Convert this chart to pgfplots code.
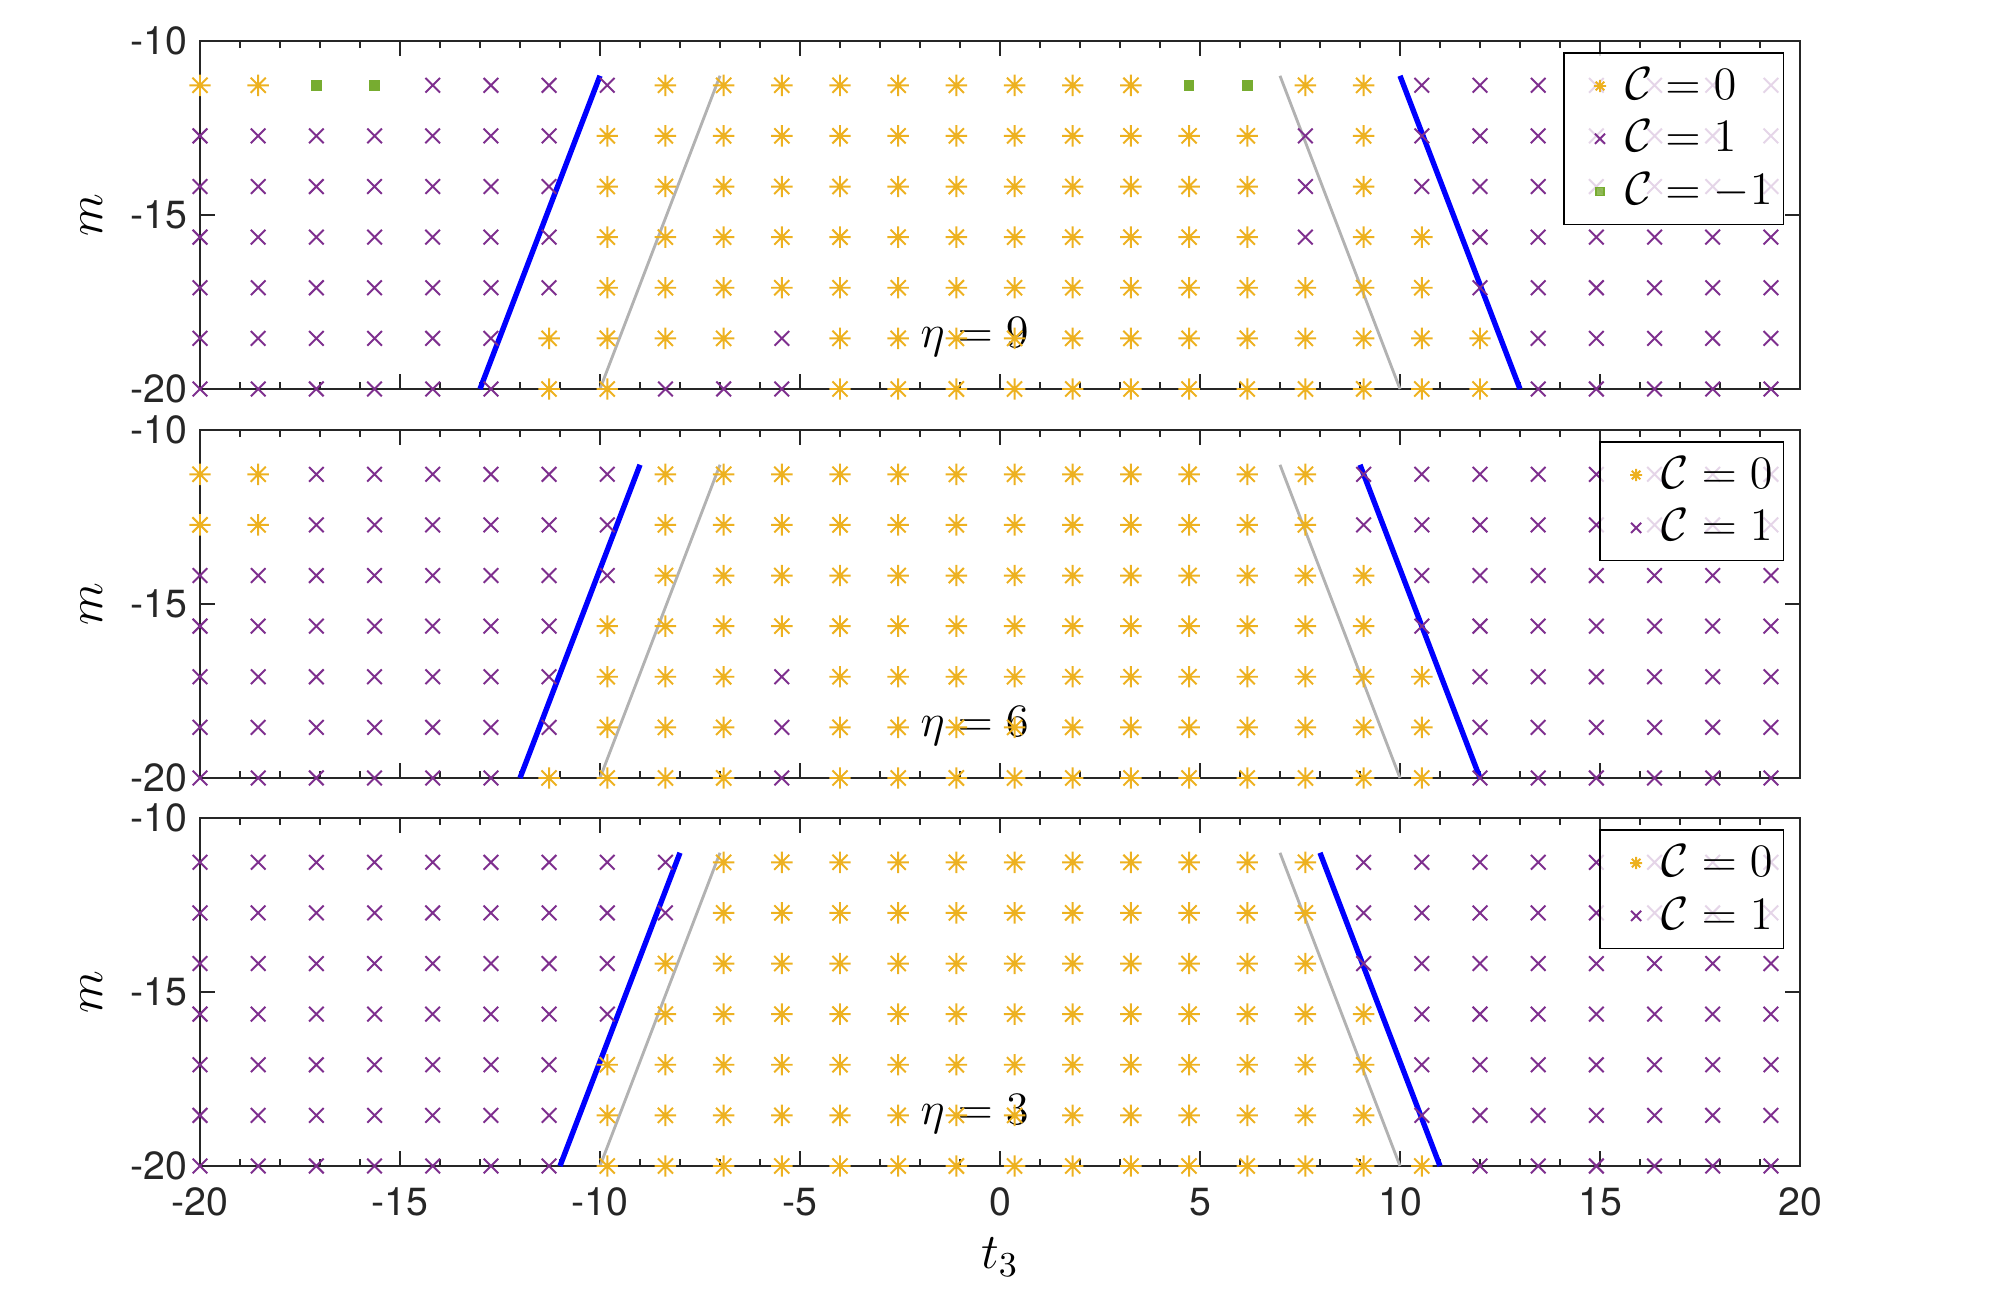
\RequirePackage{fix-cm}
\documentclass[border=0pt]{standalone}
\usepackage{fontspec}
\setmainfont{TeX Gyre Heros}
\usepackage{pgfplots}
\pgfplotsset{compat=1.18}
\definecolor{cO}{rgb}{0.929,0.694,0.125}
\definecolor{cP}{rgb}{0.494,0.184,0.556}
\definecolor{cG}{rgb}{0.466,0.674,0.188}
\definecolor{cA}{rgb}{0.15,0.15,0.15}
\definecolor{cL}{rgb}{0.7,0.7,0.7}
\pgfdeclareplotmark{mstar}{%
 \pgfpathmoveto{\pgfqpoint{0pt}{\pgfplotmarksize}}\pgfpathlineto{\pgfqpoint{0pt}{-\pgfplotmarksize}}%
 \pgfpathmoveto{\pgfqpoint{\pgfplotmarksize}{0pt}}\pgfpathlineto{\pgfqpoint{-\pgfplotmarksize}{0pt}}%
 \pgfpathmoveto{\pgfqpoint{0.7071\pgfplotmarksize}{0.7071\pgfplotmarksize}}\pgfpathlineto{\pgfqpoint{-0.7071\pgfplotmarksize}{-0.7071\pgfplotmarksize}}%
 \pgfpathmoveto{\pgfqpoint{-0.7071\pgfplotmarksize}{0.7071\pgfplotmarksize}}\pgfpathlineto{\pgfqpoint{0.7071\pgfplotmarksize}{-0.7071\pgfplotmarksize}}%
 \pgfusepathqstroke}
\pgfplotsset{
 panel/.style={
  scale only axis, width=448pt, height=97.44pt,
  xmin=-20, xmax=20, ymin=-20, ymax=-10,
  xtick={-20,-15,...,20}, minor x tick num=4,
  ytick={-20,-15,-10}, yticklabels={-20,-15,-10},
  tick align=inside,
  major tick length=4.2pt, minor tick length=2pt,
  axis line style={cA, line width=0.4pt},
  tick style={cA, line width=0.4pt},
  tick label style={font=\fontsize{11}{13}\selectfont, text=cA},
  xticklabel style={yshift=-2.6pt},
  clip=false,
  ylabel={$m$},
  ylabel style={at={(axis description cs:-0.0675,0.5)}, anchor=center, font=\fontsize{14}{16}\selectfont},
  legend style={at={(0.990,0.967)}, anchor=north east, draw=black, line width=0.4pt,
    fill=white, fill opacity=0.8, draw opacity=1, text opacity=1,
    font=\fontsize{13}{15}\selectfont, inner xsep=1pt, inner ysep=2pt, row sep=0.4pt},
  legend cell align=left,
  legend image code/.code={\path[draw=none,fill=none] (0cm,-0.1cm) rectangle (0.5cm,0.1cm); \draw[##1] plot coordinates {(0.32cm,0cm)};},
 },
 s0/.style={only marks, mark=mstar, mark size=3.0pt, color=cO, mark options={line width=0.55pt}, legend image post style={mark size=1.7pt}},
 s1/.style={only marks, mark=x, mark size=2.9pt, color=cP, mark options={line width=0.55pt}, legend image post style={mark size=2.0pt}},
 s2/.style={only marks, mark=square*, mark size=1.3pt, color=cG, legend image post style={mark size=1.1pt}},
 lb/.style={blue, line width=1.5pt, forget plot},
 lg/.style={cL, line width=0.8pt, forget plot},
}
\begin{document}
\begin{tikzpicture}
\path[use as bounding box] (0,0) rectangle (560pt,-362.88pt);
% ---------------- panel eta = 9
\begin{axis}[panel, at={(56pt,-11.48pt)}, anchor=north west, xticklabels={}]
\addplot[s0] coordinates {
(-20,-11.273) (-18.545,-11.273) (-8.364,-11.273) (-6.909,-11.273) (-5.455,-11.273) (-4,-11.273) (-2.545,-11.273) (-1.091,-11.273) (0.364,-11.273) (1.818,-11.273) (3.273,-11.273) (7.636,-11.273) (9.091,-11.273)
(-9.818,-12.727) (-8.364,-12.727) (-6.909,-12.727) (-5.455,-12.727) (-4,-12.727) (-2.545,-12.727) (-1.091,-12.727) (0.364,-12.727) (1.818,-12.727) (3.273,-12.727) (4.727,-12.727) (6.182,-12.727) (9.091,-12.727)
(-9.818,-14.182) (-8.364,-14.182) (-6.909,-14.182) (-5.455,-14.182) (-4,-14.182) (-2.545,-14.182) (-1.091,-14.182) (0.364,-14.182) (1.818,-14.182) (3.273,-14.182) (4.727,-14.182) (6.182,-14.182) (9.091,-14.182)
(-9.818,-15.636) (-8.364,-15.636) (-6.909,-15.636) (-5.455,-15.636) (-4,-15.636) (-2.545,-15.636) (-1.091,-15.636) (0.364,-15.636) (1.818,-15.636) (3.273,-15.636) (4.727,-15.636) (6.182,-15.636) (9.091,-15.636) (10.545,-15.636)
(-9.818,-17.091) (-8.364,-17.091) (-6.909,-17.091) (-5.455,-17.091) (-4,-17.091) (-2.545,-17.091) (-1.091,-17.091) (0.364,-17.091) (1.818,-17.091) (3.273,-17.091) (4.727,-17.091) (6.182,-17.091) (7.636,-17.091) (9.091,-17.091) (10.545,-17.091)
(-11.273,-18.545) (-9.818,-18.545) (-8.364,-18.545) (-6.909,-18.545) (-4,-18.545) (-2.545,-18.545) (-1.091,-18.545) (0.364,-18.545) (1.818,-18.545) (3.273,-18.545) (4.727,-18.545) (6.182,-18.545) (7.636,-18.545) (9.091,-18.545) (10.545,-18.545) (12,-18.545)
(-11.273,-20) (-9.818,-20) (-4,-20) (-2.545,-20) (-1.091,-20) (0.364,-20) (1.818,-20) (3.273,-20) (4.727,-20) (6.182,-20) (7.636,-20) (9.091,-20) (10.545,-20) (12,-20)
};
\addlegendentry{$\mathcal{C}=0$}
\addplot[s1] coordinates {
(-14.182,-11.273) (-12.727,-11.273) (-11.273,-11.273) (-9.818,-11.273) (10.545,-11.273) (12,-11.273) (13.455,-11.273) (14.909,-11.273) (16.364,-11.273) (17.818,-11.273) (19.273,-11.273)
(-20,-12.727) (-18.545,-12.727) (-17.091,-12.727) (-15.636,-12.727) (-14.182,-12.727) (-12.727,-12.727) (-11.273,-12.727) (7.636,-12.727) (10.545,-12.727) (12,-12.727) (13.455,-12.727) (14.909,-12.727) (16.364,-12.727) (17.818,-12.727) (19.273,-12.727)
(-20,-14.182) (-18.545,-14.182) (-17.091,-14.182) (-15.636,-14.182) (-14.182,-14.182) (-12.727,-14.182) (-11.273,-14.182) (7.636,-14.182) (10.545,-14.182) (12,-14.182) (13.455,-14.182) (14.909,-14.182) (16.364,-14.182) (17.818,-14.182) (19.273,-14.182)
(-20,-15.636) (-18.545,-15.636) (-17.091,-15.636) (-15.636,-15.636) (-14.182,-15.636) (-12.727,-15.636) (-11.273,-15.636) (7.636,-15.636) (12,-15.636) (13.455,-15.636) (14.909,-15.636) (16.364,-15.636) (17.818,-15.636) (19.273,-15.636)
(-20,-17.091) (-18.545,-17.091) (-17.091,-17.091) (-15.636,-17.091) (-14.182,-17.091) (-12.727,-17.091) (-11.273,-17.091) (12,-17.091) (13.455,-17.091) (14.909,-17.091) (16.364,-17.091) (17.818,-17.091) (19.273,-17.091)
(-20,-18.545) (-18.545,-18.545) (-17.091,-18.545) (-15.636,-18.545) (-14.182,-18.545) (-12.727,-18.545) (-5.455,-18.545) (13.455,-18.545) (14.909,-18.545) (16.364,-18.545) (17.818,-18.545) (19.273,-18.545)
(-20,-20) (-18.545,-20) (-17.091,-20) (-15.636,-20) (-14.182,-20) (-12.727,-20) (-8.364,-20) (-6.909,-20) (-5.455,-20) (13.455,-20) (14.909,-20) (16.364,-20) (17.818,-20) (19.273,-20)
};
\addlegendentry{$\mathcal{C}=1$}
\addplot[s2] coordinates {(-17.091,-11.273) (-15.636,-11.273) (4.727,-11.273) (6.182,-11.273)};
\addlegendentry{$\mathcal{C}=-1$}
\addplot[lb] coordinates {(-13,-20) (-10,-11)};
\addplot[lb] coordinates {(10,-11) (13,-20)};
\addplot[lg] coordinates {(-10,-20) (-7,-11)};
\addplot[lg] coordinates {(7,-11) (10,-20)};
\node[anchor=west, font=\fontsize{13}{15}\selectfont, inner sep=0pt] at (axis cs:-2,-18.5) {$\eta=9$};
\end{axis}
% ---------------- panel eta = 6
\begin{axis}[panel, at={(56pt,-120.4pt)}, anchor=north west, xticklabels={}]
\addplot[s0] coordinates {
(-20,-11.273) (-18.545,-11.273) (-8.364,-11.273) (-6.909,-11.273) (-5.455,-11.273) (-4,-11.273) (-2.545,-11.273) (-1.091,-11.273) (0.364,-11.273) (1.818,-11.273) (3.273,-11.273) (4.727,-11.273) (6.182,-11.273) (7.636,-11.273)
(-20,-12.727) (-18.545,-12.727) (-8.364,-12.727) (-6.909,-12.727) (-5.455,-12.727) (-4,-12.727) (-2.545,-12.727) (-1.091,-12.727) (0.364,-12.727) (1.818,-12.727) (3.273,-12.727) (4.727,-12.727) (6.182,-12.727) (7.636,-12.727)
(-8.364,-14.182) (-6.909,-14.182) (-5.455,-14.182) (-4,-14.182) (-2.545,-14.182) (-1.091,-14.182) (0.364,-14.182) (1.818,-14.182) (3.273,-14.182) (4.727,-14.182) (6.182,-14.182) (7.636,-14.182) (9.091,-14.182)
(-9.818,-15.636) (-8.364,-15.636) (-6.909,-15.636) (-5.455,-15.636) (-4,-15.636) (-2.545,-15.636) (-1.091,-15.636) (0.364,-15.636) (1.818,-15.636) (3.273,-15.636) (4.727,-15.636) (6.182,-15.636) (7.636,-15.636) (9.091,-15.636)
(-9.818,-17.091) (-8.364,-17.091) (-6.909,-17.091) (-4,-17.091) (-2.545,-17.091) (-1.091,-17.091) (0.364,-17.091) (1.818,-17.091) (3.273,-17.091) (4.727,-17.091) (6.182,-17.091) (7.636,-17.091) (9.091,-17.091) (10.545,-17.091)
(-9.818,-18.545) (-8.364,-18.545) (-6.909,-18.545) (-4,-18.545) (-2.545,-18.545) (-1.091,-18.545) (0.364,-18.545) (1.818,-18.545) (3.273,-18.545) (4.727,-18.545) (6.182,-18.545) (7.636,-18.545) (9.091,-18.545) (10.545,-18.545)
(-11.273,-20) (-9.818,-20) (-8.364,-20) (-6.909,-20) (-4,-20) (-2.545,-20) (-1.091,-20) (0.364,-20) (1.818,-20) (3.273,-20) (4.727,-20) (6.182,-20) (7.636,-20) (9.091,-20) (10.545,-20)
};
\addlegendentry{$\mathcal{C}=0$}
\addplot[s1] coordinates {
(-17.091,-11.273) (-15.636,-11.273) (-14.182,-11.273) (-12.727,-11.273) (-11.273,-11.273) (-9.818,-11.273) (9.091,-11.273) (10.545,-11.273) (12,-11.273) (13.455,-11.273) (14.909,-11.273) (16.364,-11.273) (17.818,-11.273) (19.273,-11.273)
(-17.091,-12.727) (-15.636,-12.727) (-14.182,-12.727) (-12.727,-12.727) (-11.273,-12.727) (-9.818,-12.727) (9.091,-12.727) (10.545,-12.727) (12,-12.727) (13.455,-12.727) (14.909,-12.727) (16.364,-12.727) (17.818,-12.727) (19.273,-12.727)
(-20,-14.182) (-18.545,-14.182) (-17.091,-14.182) (-15.636,-14.182) (-14.182,-14.182) (-12.727,-14.182) (-11.273,-14.182) (-9.818,-14.182) (10.545,-14.182) (12,-14.182) (13.455,-14.182) (14.909,-14.182) (16.364,-14.182) (17.818,-14.182) (19.273,-14.182)
(-20,-15.636) (-18.545,-15.636) (-17.091,-15.636) (-15.636,-15.636) (-14.182,-15.636) (-12.727,-15.636) (-11.273,-15.636) (10.545,-15.636) (12,-15.636) (13.455,-15.636) (14.909,-15.636) (16.364,-15.636) (17.818,-15.636) (19.273,-15.636)
(-20,-17.091) (-18.545,-17.091) (-17.091,-17.091) (-15.636,-17.091) (-14.182,-17.091) (-12.727,-17.091) (-11.273,-17.091) (-5.455,-17.091) (12,-17.091) (13.455,-17.091) (14.909,-17.091) (16.364,-17.091) (17.818,-17.091) (19.273,-17.091)
(-20,-18.545) (-18.545,-18.545) (-17.091,-18.545) (-15.636,-18.545) (-14.182,-18.545) (-12.727,-18.545) (-11.273,-18.545) (-5.455,-18.545) (12,-18.545) (13.455,-18.545) (14.909,-18.545) (16.364,-18.545) (17.818,-18.545) (19.273,-18.545)
(-20,-20) (-18.545,-20) (-17.091,-20) (-15.636,-20) (-14.182,-20) (-12.727,-20) (-5.455,-20) (12,-20) (13.455,-20) (14.909,-20) (16.364,-20) (17.818,-20) (19.273,-20)
};
\addlegendentry{$\mathcal{C}=1$}
\addplot[lb] coordinates {(-12,-20) (-9,-11)};
\addplot[lb] coordinates {(9,-11) (12,-20)};
\addplot[lg] coordinates {(-10,-20) (-7,-11)};
\addplot[lg] coordinates {(7,-11) (10,-20)};
\node[anchor=west, font=\fontsize{13}{15}\selectfont, inner sep=0pt] at (axis cs:-2,-18.5) {$\eta=6$};
\end{axis}
% ---------------- panel eta = 3
\begin{axis}[panel, at={(56pt,-229.04pt)}, anchor=north west,
  xticklabels={-20,-15,-10,-5,0,5,10,15,20},
  xlabel={$t_3$},
  xlabel style={at={(axis description cs:0.5,-0.262)}, anchor=center, font=\fontsize{14}{16}\selectfont}]
\addplot[s0] coordinates {
(-6.909,-11.273) (-5.455,-11.273) (-4,-11.273) (-2.545,-11.273) (-1.091,-11.273) (0.364,-11.273) (1.818,-11.273) (3.273,-11.273) (4.727,-11.273) (6.182,-11.273) (7.636,-11.273)
(-6.909,-12.727) (-5.455,-12.727) (-4,-12.727) (-2.545,-12.727) (-1.091,-12.727) (0.364,-12.727) (1.818,-12.727) (3.273,-12.727) (4.727,-12.727) (6.182,-12.727) (7.636,-12.727)
(-8.364,-14.182) (-6.909,-14.182) (-5.455,-14.182) (-4,-14.182) (-2.545,-14.182) (-1.091,-14.182) (0.364,-14.182) (1.818,-14.182) (3.273,-14.182) (4.727,-14.182) (6.182,-14.182) (7.636,-14.182)
(-8.364,-15.636) (-6.909,-15.636) (-5.455,-15.636) (-4,-15.636) (-2.545,-15.636) (-1.091,-15.636) (0.364,-15.636) (1.818,-15.636) (3.273,-15.636) (4.727,-15.636) (6.182,-15.636) (7.636,-15.636) (9.091,-15.636)
(-9.818,-17.091) (-8.364,-17.091) (-6.909,-17.091) (-5.455,-17.091) (-4,-17.091) (-2.545,-17.091) (-1.091,-17.091) (0.364,-17.091) (1.818,-17.091) (3.273,-17.091) (4.727,-17.091) (6.182,-17.091) (7.636,-17.091) (9.091,-17.091)
(-9.818,-18.545) (-8.364,-18.545) (-6.909,-18.545) (-5.455,-18.545) (-4,-18.545) (-2.545,-18.545) (-1.091,-18.545) (0.364,-18.545) (1.818,-18.545) (3.273,-18.545) (4.727,-18.545) (6.182,-18.545) (7.636,-18.545) (9.091,-18.545)
(-9.818,-20) (-8.364,-20) (-6.909,-20) (-5.455,-20) (-4,-20) (-2.545,-20) (-1.091,-20) (0.364,-20) (1.818,-20) (3.273,-20) (4.727,-20) (6.182,-20) (7.636,-20) (9.091,-20) (10.545,-20)
};
\addlegendentry{$\mathcal{C}=0$}
\addplot[s1] coordinates {
(-20,-11.273) (-18.545,-11.273) (-17.091,-11.273) (-15.636,-11.273) (-14.182,-11.273) (-12.727,-11.273) (-11.273,-11.273) (-9.818,-11.273) (-8.364,-11.273) (9.091,-11.273) (10.545,-11.273) (12,-11.273) (13.455,-11.273) (14.909,-11.273) (16.364,-11.273) (17.818,-11.273) (19.273,-11.273)
(-20,-12.727) (-18.545,-12.727) (-17.091,-12.727) (-15.636,-12.727) (-14.182,-12.727) (-12.727,-12.727) (-11.273,-12.727) (-9.818,-12.727) (-8.364,-12.727) (9.091,-12.727) (10.545,-12.727) (12,-12.727) (13.455,-12.727) (14.909,-12.727) (16.364,-12.727) (17.818,-12.727) (19.273,-12.727)
(-20,-14.182) (-18.545,-14.182) (-17.091,-14.182) (-15.636,-14.182) (-14.182,-14.182) (-12.727,-14.182) (-11.273,-14.182) (-9.818,-14.182) (9.091,-14.182) (10.545,-14.182) (12,-14.182) (13.455,-14.182) (14.909,-14.182) (16.364,-14.182) (17.818,-14.182) (19.273,-14.182)
(-20,-15.636) (-18.545,-15.636) (-17.091,-15.636) (-15.636,-15.636) (-14.182,-15.636) (-12.727,-15.636) (-11.273,-15.636) (-9.818,-15.636) (10.545,-15.636) (12,-15.636) (13.455,-15.636) (14.909,-15.636) (16.364,-15.636) (17.818,-15.636) (19.273,-15.636)
(-20,-17.091) (-18.545,-17.091) (-17.091,-17.091) (-15.636,-17.091) (-14.182,-17.091) (-12.727,-17.091) (-11.273,-17.091) (10.545,-17.091) (12,-17.091) (13.455,-17.091) (14.909,-17.091) (16.364,-17.091) (17.818,-17.091) (19.273,-17.091)
(-20,-18.545) (-18.545,-18.545) (-17.091,-18.545) (-15.636,-18.545) (-14.182,-18.545) (-12.727,-18.545) (-11.273,-18.545) (10.545,-18.545) (12,-18.545) (13.455,-18.545) (14.909,-18.545) (16.364,-18.545) (17.818,-18.545) (19.273,-18.545)
(-20,-20) (-18.545,-20) (-17.091,-20) (-15.636,-20) (-14.182,-20) (-12.727,-20) (-11.273,-20) (12,-20) (13.455,-20) (14.909,-20) (16.364,-20) (17.818,-20) (19.273,-20)
};
\addlegendentry{$\mathcal{C}=1$}
\addplot[lb] coordinates {(-11,-20) (-8,-11)};
\addplot[lb] coordinates {(8,-11) (11,-20)};
\addplot[lg] coordinates {(-10,-20) (-7,-11)};
\addplot[lg] coordinates {(7,-11) (10,-20)};
\node[anchor=west, font=\fontsize{13}{15}\selectfont, inner sep=0pt] at (axis cs:-2,-18.5) {$\eta=3$};
\end{axis}
\end{tikzpicture}
\end{document}
